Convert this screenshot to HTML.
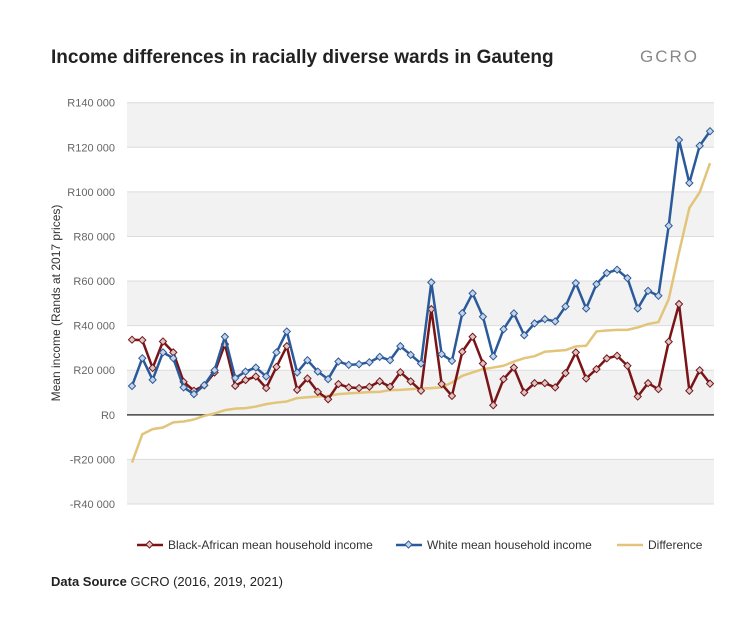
<!DOCTYPE html>
<html><head><meta charset="utf-8"><style>
body{margin:0;background:#fff;width:754px;height:617px;overflow:hidden;font-family:"Liberation Sans",sans-serif}
</style></head><body>
<svg width="754" height="617" font-family="Liberation Sans, sans-serif">
<text x="51" y="63" font-size="19" font-weight="bold" fill="#222">Income differences in racially diverse wards in Gauteng</text>
<text x="640" y="62" font-size="17" fill="#888" letter-spacing="2">GCRO</text>
<g id="bands"></g>
<g id="grid"></g>
<g id="yticks" font-size="11" fill="#666" text-anchor="end"></g>
<text transform="translate(60,303) rotate(-90)" font-size="12" fill="#333" text-anchor="middle">Mean income (Rands at 2017 prices)</text>
<g id="series"></g>
<g font-size="12" fill="#333">
<g><line x1="137" y1="545" x2="163" y2="545" stroke="#7a1416" stroke-width="2.5"/><rect x="147" y="542" width="5" height="5" transform="rotate(45 149.5 544.5)" fill="#d9c8c8" stroke="#7a1416"/><text x="168" y="549">Black-African mean household income</text></g>
<g><line x1="396" y1="545" x2="422" y2="545" stroke="#2a5a9a" stroke-width="2.5"/><rect x="406" y="542" width="5" height="5" transform="rotate(45 408.5 544.5)" fill="#c8d4e6" stroke="#2a5a9a"/><text x="427" y="549">White mean household income</text></g>
<g><line x1="617" y1="545" x2="643" y2="545" stroke="#e2c47a" stroke-width="2.5"/><text x="648" y="549">Difference</text></g>
</g>
<text x="51" y="586" font-size="13" fill="#222"><tspan font-weight="bold">Data Source</tspan>  GCRO (2016, 2019, 2021)</text>
</svg>
<script>
const tickValues=[140000,120000,100000,80000,60000,40000,20000,0,-20000,-40000];
const tickLabels=["R140 000","R120 000","R100 000","R80 000","R60 000","R40 000","R20 000","R0","-R20 000","-R40 000"];
const white=[12900,25400,15700,28000,25400,12300,9300,13300,20000,35000,16500,19400,21200,17200,28000,37400,19000,24500,19400,16000,23900,22400,22700,23600,26000,24500,30800,26900,23000,59400,27200,24200,45600,54500,44000,26200,38400,45500,35700,41000,42900,41900,48600,59100,47700,58600,63600,65100,61300,47700,55600,53400,84800,123300,104000,120700,127200];
const black=[33700,33500,21000,32900,28000,14800,10800,13200,19000,31700,13000,15600,17200,12000,21500,30800,11200,16300,10300,7000,13800,12300,12000,12600,15000,12600,19100,15000,10800,47400,13800,8500,28300,35000,23000,4300,16000,21200,10000,14200,14200,12300,18700,28000,16300,20500,25300,26500,22000,8200,14200,11500,32800,49700,10800,20000,14000];
const diff=[-21400,-8700,-6400,-5700,-3400,-3000,-2100,-450,600,2100,2800,3000,3700,4800,5500,6000,7500,7900,8200,8500,9300,9600,9900,10200,10300,11100,11200,11500,11800,12000,12300,14500,17500,19000,20500,21200,22000,23900,25400,26300,28300,28700,29000,30700,31000,37400,37800,38100,38100,39200,40700,41600,51900,72900,92800,99800,112900];
const NS="http://www.w3.org/2000/svg";
const X0=127,X1=714,Y0=102.7,Y1=504,VMAX=140000,VMIN=-40000;
const y=v=>Y0+(VMAX-v)/(VMAX-VMIN)*(Y1-Y0);
const x=i=>132+i*(710-132)/(white.length-1);
function mk(t,a,p){const e=document.createElementNS(NS,t);for(const k in a)e.setAttribute(k,a[k]);p.appendChild(e);return e;}
const bands=document.getElementById('bands'),grid=document.getElementById('grid'),yt=document.getElementById('yticks'),ser=document.getElementById('series');
[[140000,120000],[100000,80000],[60000,40000],[20000,0],[-20000,-40000]].forEach(b=>{
 const r=mk('rect',{x:X0,y:y(b[0]),width:X1-X0,height:y(b[1])-y(b[0]),fill:'#f2f2f2'},bands);
 
 
});
tickValues.forEach((v,i)=>{
 const l=mk('line',{x1:X0,x2:X1,y1:y(v),y2:y(v),stroke:v===0?'#444':'#dcdcdc','stroke-width':v===0?1.5:1},grid);
 
 
 const t=mk('text',{x:115,y:y(v)+4},yt);t.textContent=tickLabels[i];
 
 
});
function line(data,color,name,markers,fill){
 const p=mk('polyline',{points:data.map((v,i)=>x(i)+','+y(v)).join(' '),fill:'none',stroke:color,'stroke-width':2.5,'stroke-linejoin':'round'},ser);
 
 
 if(markers)data.forEach((v,i)=>{
  const m=mk('rect',{x:x(i)-2.5,y:y(v)-2.5,width:5,height:5,fill:fill,stroke:color,'stroke-width':1,transform:`rotate(45 ${x(i)} ${y(v)})`},ser);
  
  
 });
}
line(diff,'#e2c47a','difference',false);
line(black,'#7a1416','black-income',true,'#d9c8c8');
line(white,'#2a5a9a','white-income',true,'#c8d4e6');
</script>
</body></html>
